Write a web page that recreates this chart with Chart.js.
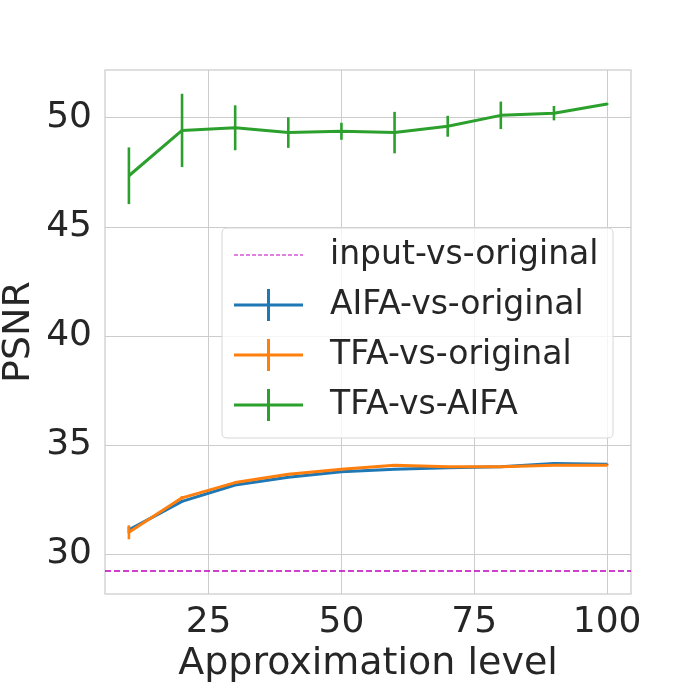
<!DOCTYPE html>
<html><head><meta charset="utf-8">
<script src="https://cdn.jsdelivr.net/npm/chart.js@4.4.0/dist/chart.umd.min.js"></script>
<style>html,body{margin:0;padding:0;background:#fff}#wrap{width:700px;height:700px}</style>
</head><body><div id="wrap"><canvas id="c" width="700" height="700"></canvas></div>
<script>
const levels = [10, 20, 30, 40, 50, 60, 70, 80, 90, 100];
const inputPSNR = 29.22;
const aifaPSNR = [31.11, 32.42, 33.17, 33.52, 33.78, 33.89, 33.96, 34.00, 34.16, 34.12];
const aifaErr  = [0.15, 0.05, 0.03, 0.03, 0.03, 0.03, 0.03, 0.03, 0.03, 0.03];
const tfaPSNR  = [31.00, 32.58, 33.28, 33.66, 33.89, 34.07, 34.00, 34.00, 34.07, 34.07];
const tfaErr   = [0.32, 0.08, 0.04, 0.03, 0.03, 0.03, 0.03, 0.03, 0.03, 0.03];
const tfaAifaPSNR = [47.35, 49.43, 49.55, 49.33, 49.39, 49.33, 49.62, 50.12, 50.22, 50.64];
const tfaAifaErr  = [1.30, 1.68, 1.03, 0.70, 0.39, 0.95, 0.48, 0.63, 0.33, 0.05];
const seriesNames = ['input-vs-original', 'AIFA-vs-original', 'TFA-vs-original', 'TFA-vs-AIFA'];
const xTickStep = 25;
const yTickStep = 5;
const xRange = [5.5, 104.5];
const yRange = [28.17, 52.2];

const TXT = '#262626';
const GRID = '#cccccc';
const COLORS = ['#bf00bf', '#1f77b4', '#ff7f0e', '#2ca02c'];

function pts(vals) { return levels.map((x, i) => ({x: x, y: vals[i]})); }

const errorBars = {
  id: 'errorBars',
  afterDatasetDraw(chart, args) {
    const ds = chart.data.datasets[args.index];
    if (!ds.errors) return;
    const xs = chart.scales.x, ys = chart.scales.y, ctx = chart.ctx, a = chart.chartArea;
    ctx.save();
    ctx.beginPath(); ctx.rect(a.left, a.top, a.right - a.left, a.bottom - a.top); ctx.clip();
    ctx.strokeStyle = ds.borderColor; ctx.lineWidth = 2.6; ctx.lineCap = 'butt';
    ds.data.forEach((p, i) => {
      const e = ds.errors[i];
      const px = xs.getPixelForValue(p.x);
      ctx.beginPath();
      ctx.moveTo(px, ys.getPixelForValue(p.y - e));
      ctx.lineTo(px, ys.getPixelForValue(p.y + e));
      ctx.stroke();
    });
    ctx.restore();
  }
};

const frame = {
  id: 'frame',
  beforeDatasetsDraw(chart) {
    const a = chart.chartArea, ctx = chart.ctx;
    ctx.save(); ctx.strokeStyle = GRID; ctx.lineWidth = 1.25;
    ctx.strokeRect(a.left, a.top, a.right - a.left, a.bottom - a.top);
    ctx.restore();
  }
};

const legendBox = {
  id: 'legendBox',
  afterDraw(chart) {
    const ctx = chart.ctx;
    const bx = 222, by = 228, bw = 391, bh = 210, r = 5;
    ctx.save();
    ctx.beginPath();
    ctx.moveTo(bx + r, by); ctx.lineTo(bx + bw - r, by); ctx.quadraticCurveTo(bx + bw, by, bx + bw, by + r);
    ctx.lineTo(bx + bw, by + bh - r); ctx.quadraticCurveTo(bx + bw, by + bh, bx + bw - r, by + bh);
    ctx.lineTo(bx + r, by + bh); ctx.quadraticCurveTo(bx, by + bh, bx, by + bh - r);
    ctx.lineTo(bx, by + r); ctx.quadraticCurveTo(bx, by, bx + r, by);
    ctx.closePath();
    ctx.fillStyle = 'rgba(255,255,255,0.8)'; ctx.fill();
    ctx.strokeStyle = '#d6d6d6'; ctx.lineWidth = 1; ctx.stroke();
    chart.data.datasets.forEach((ds, i) => {
      const cy = 255 + i * 50;
      ctx.strokeStyle = ds.borderColor;
      if (ds.errors) {
        ctx.setLineDash([]); ctx.lineWidth = 3;
        ctx.beginPath(); ctx.moveTo(234, cy); ctx.lineTo(303, cy); ctx.stroke();
        ctx.beginPath(); ctx.moveTo(268.5, cy - 16); ctx.lineTo(268.5, cy + 16); ctx.stroke();
      } else {
        ctx.setLineDash([4, 2]); ctx.lineWidth = 1.2;
        ctx.beginPath(); ctx.moveTo(234, cy); ctx.lineTo(303, cy); ctx.stroke();
        ctx.setLineDash([]);
      }
      ctx.fillStyle = TXT; ctx.font = '33px "DejaVu Sans"';
      ctx.textBaseline = 'middle'; ctx.textAlign = 'left';
      ctx.fillText(ds.label, 330, cy);
    });
    ctx.restore();
  }
};

new Chart(document.getElementById('c'), {
  type: 'line',
  data: {
    datasets: [
      {label: seriesNames[0], data: [{x: xRange[0], y: inputPSNR}, {x: xRange[1], y: inputPSNR}],
       borderColor: COLORS[0], borderWidth: 1.5, borderDash: [6, 3], pointRadius: 0, order: 4},
      {label: seriesNames[1], data: pts(aifaPSNR), errors: aifaErr,
       borderColor: COLORS[1], borderWidth: 3, pointRadius: 0, order: 3},
      {label: seriesNames[2], data: pts(tfaPSNR), errors: tfaErr,
       borderColor: COLORS[2], borderWidth: 3, pointRadius: 0, order: 2},
      {label: seriesNames[3], data: pts(tfaAifaPSNR), errors: tfaAifaErr,
       borderColor: COLORS[3], borderWidth: 3, pointRadius: 0, order: 1}
    ]
  },
  options: {
    responsive: false,
    animation: false,
    devicePixelRatio: 1,
    layout: {padding: {top: 70, right: 69, left: 0, bottom: 0}},
    elements: {line: {tension: 0, fill: false, borderCapStyle: 'butt', borderJoinStyle: 'round'}},
    plugins: {legend: {display: false}, tooltip: {enabled: false}},
    scales: {
      x: {
        type: 'linear', min: xRange[0], max: xRange[1],
        afterFit(s) { s.height = 106; },
        grid: {color: GRID, lineWidth: 1, drawTicks: false},
        border: {display: false},
        ticks: {stepSize: xTickStep, includeBounds: false, padding: 7, color: TXT,
                font: {family: 'DejaVu Sans', size: 36}, maxRotation: 0},
        title: {display: true, text: 'Approximation level', color: TXT,
                font: {family: 'DejaVu Sans', size: 38, lineHeight: 1}, padding: {top: 0, bottom: 17}}
      },
      y: {
        type: 'linear', min: yRange[0], max: yRange[1],
        afterFit(s) { s.width = 105; },
        grid: {color: GRID, lineWidth: 1, drawTicks: false},
        border: {display: false},
        ticks: {stepSize: yTickStep, includeBounds: false, padding: 13, color: TXT,
                font: {family: 'DejaVu Sans', size: 36}},
        title: {display: true, text: 'PSNR', color: TXT,
                font: {family: 'DejaVu Sans', size: 38, lineHeight: 1}, padding: {top: 0, bottom: 0}}
      }
    }
  },
  plugins: [frame, errorBars, legendBox]
});
</script>
</body></html>
